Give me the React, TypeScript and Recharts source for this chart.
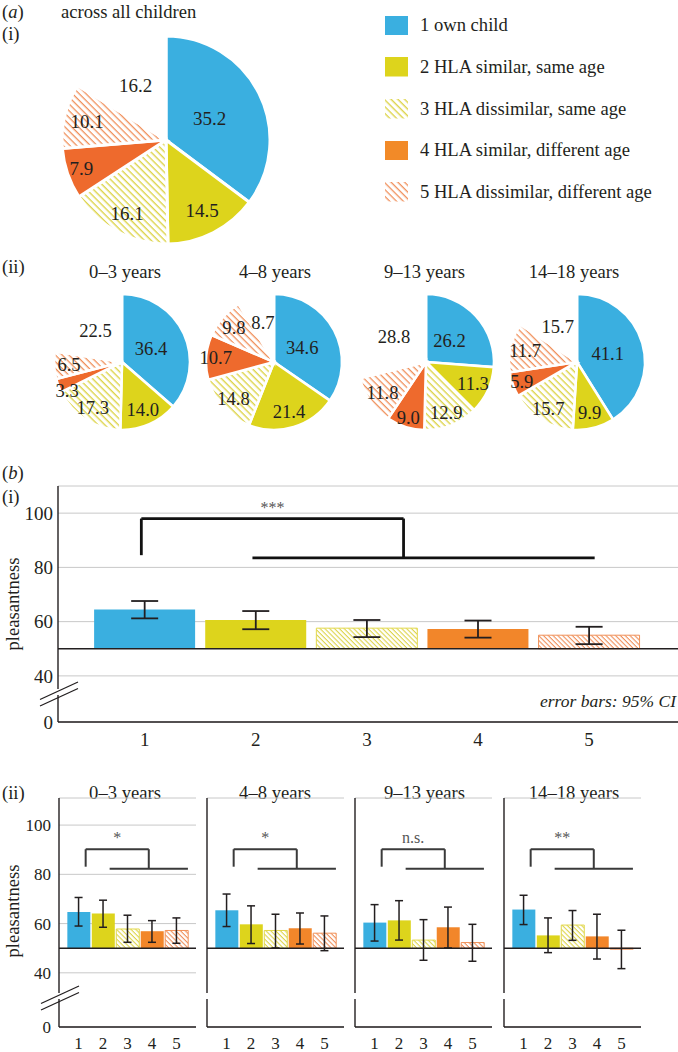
import React from "react";
import {
  Bar,
  CartesianGrid,
  Cell,
  ComposedChart,
  ErrorBar,
  Line,
  Pie,
  PieChart,
  ReferenceDot,
  ReferenceLine,
  XAxis,
  YAxis,
} from "recharts";

const FONT = '"Liberation Serif", "Times New Roman", serif';
const INK = "#231f20";
const BLUE = "#3aafe0";
const YELLOW = "#ddd41c";
const PIE_ORANGE = "#ee6a2d";
const BAR_ORANGE = "#f2862a";
const LEGEND_ORANGE = "#f28a28";
const HATCH_Y = "#ddd44a";
const HATCH_O = "#f08f5a";
const GRID = "#c8c8c8";

// ---- data ----
const CATEGORIES = [
  "1 own child",
  "2 HLA similar, same age",
  "3 HLA dissimilar, same age",
  "4 HLA similar, different age",
  "5 HLA dissimilar, different age",
];
const SLICE_KEYS = ["1", "2", "3", "4", "5", "none"];
const AGE_GROUPS = ["0–3 years", "4–8 years", "9–13 years", "14–18 years"];

// (a) share of choices in %, last entry = no choice (blank slice)
const SHARE_ALL = [35.2, 14.5, 16.1, 7.9, 10.1, 16.2];
const SHARE_0_3 = [36.4, 14.0, 17.3, 3.3, 6.5, 22.5];
const SHARE_4_8 = [34.6, 21.4, 14.8, 10.7, 9.8, 8.7];
const SHARE_9_13 = [26.2, 11.3, 12.9, 9.0, 11.8, 28.8];
const SHARE_14_18 = [41.1, 9.9, 15.7, 5.9, 11.7, 15.7];
const SHARE_BY_AGE = [SHARE_0_3, SHARE_4_8, SHARE_9_13, SHARE_14_18];

// (b) mean pleasantness with 95% CI
const X_TICKS = [1, 2, 3, 4, 5];
const MEAN_ALL = [64.5, 60.6, 57.6, 57.3, 55.0];
const LOW_ALL = [61.2, 57.2, 54.3, 54.1, 51.7];
const HIGH_ALL = [67.6, 63.9, 60.6, 60.4, 58.1];

const MEAN_0_3 = [64.7, 64.1, 57.8, 56.9, 57.2];
const LOW_0_3 = [59.0, 58.5, 52.4, 52.4, 52.0];
const HIGH_0_3 = [70.6, 69.5, 63.4, 61.2, 62.3];
const MEAN_4_8 = [65.4, 59.7, 57.2, 58.1, 56.1];
const LOW_4_8 = [58.8, 51.9, 50.1, 51.7, 49.0];
const HIGH_4_8 = [72.0, 67.2, 63.8, 64.3, 63.1];
const MEAN_9_13 = [60.4, 61.3, 53.3, 58.5, 52.3];
const LOW_9_13 = [52.9, 53.3, 45.1, 50.1, 44.7];
const HIGH_9_13 = [67.7, 69.3, 61.6, 66.7, 59.7];
const MEAN_14_18 = [65.7, 55.2, 59.4, 54.8, 49.6];
const LOW_14_18 = [59.6, 48.2, 53.2, 45.6, 41.7];
const HIGH_14_18 = [71.5, 62.3, 65.3, 63.8, 57.3];
const MEANS_BY_AGE = [MEAN_0_3, MEAN_4_8, MEAN_9_13, MEAN_14_18];
const LOWS_BY_AGE = [LOW_0_3, LOW_4_8, LOW_9_13, LOW_14_18];
const HIGHS_BY_AGE = [HIGH_0_3, HIGH_4_8, HIGH_9_13, HIGH_14_18];

const BASELINE = 50;
// bottom tick sits at the axis break and is labelled "0"
const Y_TICKS_I = [23, 40, 60, 80, 100];
const Y_TICKS_II = [18, 40, 60, 80, 100];
const Y_TICK_LABELS = ["0", "40", "60", "80", "100"];

const SIG_ALL = "***";
const SIG_BY_AGE = ["*", "*", "n.s.", "**"];
// comparison brackets (x in category units, y in pleasantness)
const BRACKET_I = { left: 0.97, right: 3.33, top: 98, leftEnd: 84.5, from: 1.97, to: 5.05, line: 83.5, text: 102.3 };
const BRACKET_II = { left: 1.29, right: 3.87, top: 90.2, leftEnd: 83.1, from: 2.27, to: 5.47, line: 82.3, text: 95.2 };

// ---- styles ----
const PIE_FILLS = [BLUE, YELLOW, "url(#pie-hatch-y)", PIE_ORANGE, "url(#pie-hatch-o)", "#fff"];
const LEGEND_FILLS = [BLUE, YELLOW, "url(#pie-hatch-y)", LEGEND_ORANGE, "url(#pie-hatch-o)"];
const LABEL_R = [0.47, 0.76, 0.8, 0.86, 0.78, 0.6];
const BAR_FILLS = [BLUE, YELLOW, "url(#bar-hatch-y)", BAR_ORANGE, "url(#bar-hatch-o)"];
const BAR_STROKES = ["none", "none", "#e2d84c", "none", "#f0925a"];
const SMALL_PIE_X = [122, 274, 426, 577];
const PANEL_LEFT = [0, 148, 296, 445];
const PANEL_TITLE_X = [125, 275, 424.5, 574];

function pieLabel(fontSize: number) {
  return (props: any) => {
    const { cx, cy, midAngle, outerRadius, index, value } = props;
    const r = outerRadius * LABEL_R[index];
    const a = (-midAngle * Math.PI) / 180;
    // very thin slices: nudge the label down so it clears its neighbour
    const dy = Number(value) < 5 ? fontSize * 0.45 : 0;
    return (
      <text
        x={cx + r * Math.cos(a)}
        y={cy + r * Math.sin(a) + dy}
        textAnchor="middle"
        dominantBaseline="central"
        fill={INK}
        fontSize={fontSize}
        fontFamily={FONT}
      >
        {Number(value).toFixed(1)}
      </text>
    );
  };
}

function sliceData(shares: number[]) {
  return shares.map((v, i) => ({ name: SLICE_KEYS[i], value: v }));
}

function barRows(means: number[], lows: number[], highs: number[]) {
  return means.map((m, i) => ({
    x: X_TICKS[i],
    range: [Math.min(BASELINE, m), Math.max(BASELINE, m)],
    mean: m,
    err: [m - lows[i], highs[i] - m],
  }));
}

function Label({
  x,
  y,
  children,
  size = 18.6,
  align = "left",
  italic = false,
}: {
  x: number;
  y: number;
  children: React.ReactNode;
  size?: number;
  align?: "left" | "center" | "right";
  italic?: boolean;
}) {
  const tx = align === "center" ? "-50%" : align === "right" ? "-100%" : "0";
  return (
    <div
      style={{
        position: "absolute",
        left: x,
        top: y,
        transform: `translate(${tx}, -50%)`,
        fontSize: size,
        lineHeight: 1,
        whiteSpace: "nowrap",
        fontStyle: italic ? "italic" : "normal",
      }}
    >
      {children}
    </div>
  );
}

function YTitle({ x, y }: { x: number; y: number }) {
  return (
    <div
      style={{
        position: "absolute",
        left: x,
        top: y,
        transform: "translate(-50%, -50%) rotate(-90deg)",
        fontSize: 18.6,
        lineHeight: 1,
        whiteSpace: "nowrap",
      }}
    >
      pleasantness
    </div>
  );
}

function Patterns() {
  return (
    <svg width={0} height={0} style={{ position: "absolute" }}>
      <defs>
        <pattern id="pie-hatch-y" patternUnits="userSpaceOnUse" width={10} height={4.8} patternTransform="rotate(45)">
          <rect width={10} height={4.8} fill="#fff" />
          <rect width={10} height={1.4} fill={HATCH_Y} />
        </pattern>
        <pattern id="pie-hatch-o" patternUnits="userSpaceOnUse" width={10} height={4.8} patternTransform="rotate(45)">
          <rect width={10} height={4.8} fill="#fff" />
          <rect width={10} height={1.3} fill={HATCH_O} />
        </pattern>
        <pattern id="bar-hatch-y" patternUnits="userSpaceOnUse" width={10} height={3.4} patternTransform="rotate(45)">
          <rect width={10} height={3.4} fill="#fff" />
          <rect width={10} height={1.1} fill={HATCH_Y} />
        </pattern>
        <pattern id="bar-hatch-o" patternUnits="userSpaceOnUse" width={10} height={3.4} patternTransform="rotate(45)">
          <rect width={10} height={3.4} fill="#fff" />
          <rect width={10} height={1.1} fill={HATCH_O} />
        </pattern>
      </defs>
    </svg>
  );
}

interface BarPanelProps {
  means: number[];
  lows: number[];
  highs: number[];
  yTicks: number[];
  bracket: typeof BRACKET_I;
  sig: string;
  width: number;
  height: number;
  yAxisWidth: number;
  xAxisHeight: number;
  tickSize: number;
  yTickMargin: number;
  xTickMargin: number;
  barSize: number;
  cap: number;
  errWidth: number;
  bracketColor: string;
  bracketWidth: number;
  showYTicks: boolean;
  domainX: [number, number];
  domainY: [number, number];
}

function BarPanel(p: BarPanelProps) {
  const data = barRows(p.means, p.lows, p.highs);
  const b = p.bracket;
  const seg = (x1: number, y1: number, x2: number, y2: number) => (
    <ReferenceLine
      segment={[
        { x: x1, y: y1 },
        { x: x2, y: y2 },
      ]}
      stroke={p.bracketColor}
      strokeWidth={p.bracketWidth}
      ifOverflow="visible"
    />
  );
  return (
    <ComposedChart
      width={p.width}
      height={p.height}
      data={data}
      margin={{ top: 10, right: 0, bottom: 0, left: 0 }}
    >
      <CartesianGrid vertical={false} stroke={GRID} strokeWidth={1} />
      <XAxis
        type="number"
        dataKey="x"
        domain={p.domainX}
        ticks={X_TICKS}
        allowDataOverflow
        interval={0}
        height={p.xAxisHeight}
        tickLine={false}
        tickSize={0}
        tickMargin={p.xTickMargin}
        axisLine={{ stroke: INK, strokeWidth: 1.4 }}
        tick={{ fill: INK, fontSize: p.tickSize, fontFamily: FONT }}
      />
      <YAxis
        type="number"
        domain={p.domainY}
        ticks={p.yTicks}
        allowDataOverflow
        interval={0}
        width={p.yAxisWidth}
        tickLine={false}
        tickSize={0}
        tickMargin={p.yTickMargin}
        axisLine={{ stroke: INK, strokeWidth: 1.4 }}
        tick={p.showYTicks ? { fill: INK, fontSize: p.tickSize, fontFamily: FONT } : false}
        tickFormatter={(v: number) => Y_TICK_LABELS[p.yTicks.indexOf(v)] ?? ""}
      />
      <Bar dataKey="range" barSize={p.barSize} isAnimationActive={false}>
        {data.map((_, i) => (
          <Cell key={i} fill={BAR_FILLS[i]} stroke={BAR_STROKES[i]} strokeWidth={1} />
        ))}
      </Bar>
      <ReferenceLine y={BASELINE} stroke={INK} strokeWidth={1.4} />
      <Line
        dataKey="mean"
        stroke="none"
        dot={false}
        activeDot={false}
        legendType="none"
        isAnimationActive={false}
      >
        <ErrorBar dataKey="err" width={p.cap} stroke={INK} strokeWidth={p.errWidth} direction="y" />
      </Line>
      {seg(b.left, b.leftEnd, b.left, b.top)}
      {seg(b.left, b.top, b.right, b.top)}
      {seg(b.right, b.top, b.right, b.line)}
      {seg(b.from, b.line, b.to, b.line)}
      <ReferenceDot
        x={(b.left + b.right) / 2}
        y={b.text}
        r={0}
        fill="none"
        stroke="none"
        ifOverflow="visible"
        label={{ value: p.sig, position: "center", fill: "#555", fontSize: 16, fontFamily: FONT }}
      />
    </ComposedChart>
  );
}

function BreakMarks({ x, y, gap, withSlashes }: { x: number; y: number; gap: number; withSlashes: boolean }) {
  // white gap in the y axis plus the two "//" marks
  return (
    <svg
      width={60}
      height={40}
      style={{ position: "absolute", left: x - 30, top: y - 20 }}
    >
      <rect x={27} y={20 - gap / 2} width={6} height={gap} fill="#fff" />
      {withSlashes && (
        <>
          <line x1={12} y1={27.5} x2={50} y2={10} stroke={INK} strokeWidth={1.3} />
          <line x1={12} y1={34} x2={50} y2={16.5} stroke={INK} strokeWidth={1.3} />
        </>
      )}
    </svg>
  );
}

export default function App() {
  return (
    <div
      style={{
        position: "absolute",
        left: 0,
        top: 0,
        width: 678,
        height: 1052,
        background: "#fff",
        fontFamily: FONT,
        color: INK,
        overflow: "hidden",
      }}
    >
      <Patterns />

      {/* (a) pies */}
      <Label x={2} y={12}>
        (<i>a</i>)
      </Label>
      <Label x={61} y={12}>across all children</Label>
      <Label x={2} y={33.5}>(i)</Label>
      <Label x={2} y={266.5}>(ii)</Label>
      {AGE_GROUPS.map((g, i) => (
        <Label key={g} x={PANEL_TITLE_X[i]} y={271.5} align="center">
          {g}
        </Label>
      ))}

      <div style={{ position: "absolute", left: 0, top: 0 }}>
        <PieChart width={678} height={450} margin={{ top: 0, right: 0, bottom: 0, left: 0 }}>
          <Pie
            data={sliceData(SHARE_ALL)}
            dataKey="value"
            nameKey="name"
            cx={166}
            cy={140}
            outerRadius={104}
            startAngle={90}
            endAngle={-270}
            stroke="#fff"
            strokeWidth={3}
            labelLine={false}
            label={pieLabel(19)}
            isAnimationActive={false}
          >
            {SHARE_ALL.map((_, i) => (
              <Cell key={i} fill={PIE_FILLS[i]} />
            ))}
          </Pie>
          {SHARE_BY_AGE.map((shares, k) => (
            <Pie
              key={AGE_GROUPS[k]}
              data={sliceData(shares)}
              dataKey="value"
              nameKey="name"
              cx={SMALL_PIE_X[k]}
              cy={362}
              outerRadius={68}
              startAngle={90}
              endAngle={-270}
              stroke="#fff"
              strokeWidth={2.6}
              labelLine={false}
              label={pieLabel(18.6)}
              isAnimationActive={false}
            >
              {shares.map((_, i) => (
                <Cell key={i} fill={PIE_FILLS[i]} />
              ))}
            </Pie>
          ))}
        </PieChart>
      </div>

      {/* legend */}
      {CATEGORIES.map((c, i) => (
        <div
          key={c}
          style={{
            position: "absolute",
            left: 385,
            top: 25.6 + i * 41.6 - 10,
            height: 20,
            display: "flex",
            alignItems: "center",
          }}
        >
          <svg width={23} height={19.5} style={{ display: "block" }}>
            <rect width={23} height={19.5} fill={LEGEND_FILLS[i]} />
          </svg>
          <span style={{ marginLeft: 12, fontSize: 18.6, lineHeight: 1, whiteSpace: "nowrap" }}>{c}</span>
        </div>
      ))}

      {/* (b)(i) */}
      <Label x={2} y={473.3}>
        (<i>b</i>)
      </Label>
      <Label x={2} y={496.7}>(i)</Label>
      <YTitle x={13} y={604} />
      <div style={{ position: "absolute", left: 0, top: 476 }}>
        <BarPanel
          means={MEAN_ALL}
          lows={LOW_ALL}
          highs={HIGH_ALL}
          yTicks={Y_TICKS_I}
          bracket={BRACKET_I}
          sig={SIG_ALL}
          width={678}
          height={286}
          yAxisWidth={58}
          xAxisHeight={40}
          tickSize={19}
          yTickMargin={5}
          xTickMargin={11}
          barSize={101}
          cap={13.5}
          errWidth={1.8}
          bracketColor="#111"
          bracketWidth={2.8}
          showYTicks
          domainX={[0.22, 5.8]}
          domainY={[23, 110]}
        />
      </div>
      <BreakMarks x={58} y={691.5} gap={6} withSlashes />
      <Label x={676} y={701.7} size={17.5} align="right" italic>
        error bars: 95% CI
      </Label>

      {/* (b)(ii) */}
      <Label x={2} y={793}>(ii)</Label>
      <YTitle x={13} y={911} />
      {AGE_GROUPS.map((g, k) => (
        <Label key={g} x={PANEL_TITLE_X[k]} y={792.7} align="center">
          {g}
        </Label>
      ))}
      {AGE_GROUPS.map((g, k) => (
        <div key={g} style={{ position: "absolute", left: PANEL_LEFT[k], top: 788 }}>
          <BarPanel
            means={MEANS_BY_AGE[k]}
            lows={LOWS_BY_AGE[k]}
            highs={HIGHS_BY_AGE[k]}
            yTicks={Y_TICKS_II}
            bracket={BRACKET_II}
            sig={SIG_BY_AGE[k]}
            width={196}
            height={272}
            yAxisWidth={59}
            xAxisHeight={33}
            tickSize={17}
            yTickMargin={8}
            xTickMargin={10}
            barSize={23}
            cap={4}
            errWidth={1.5}
            bracketColor="#3a3a3a"
            bracketWidth={2}
            showYTicks={k === 0}
            domainX={[0.2, 5.8]}
            domainY={[18, 111]}
          />
        </div>
      ))}
      {PANEL_LEFT.map((l, k) => (
        <BreakMarks key={k} x={l + 59} y={996.2} gap={6} withSlashes={k === 0} />
      ))}
    </div>
  );
}
